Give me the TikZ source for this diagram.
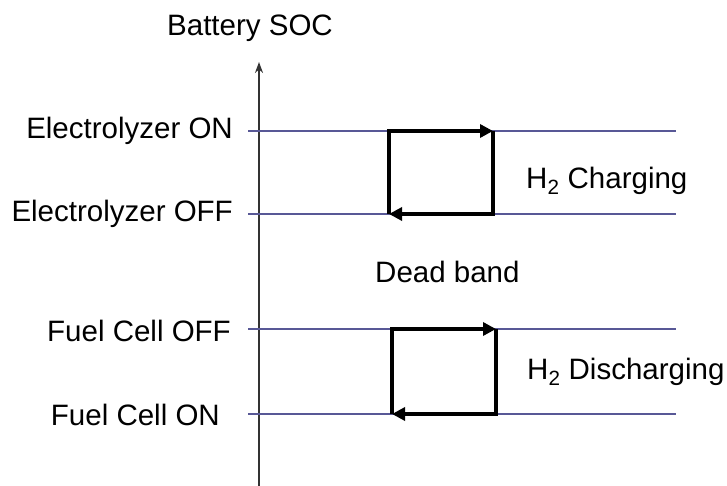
\documentclass[tikz,border=0pt]{standalone}
\usepackage{fontspec}
\setmainfont{Liberation Sans}
\usepackage{tikz}
\usetikzlibrary{arrows.meta}

\definecolor{levelblue}{RGB}{88,88,150}

\begin{document}
\begin{tikzpicture}[
    x=1pt, y=-1pt,
    font=\fontsize{29.5}{34}\selectfont,
    axisline/.style={draw=black!80, line width=2pt, -{Stealth[length=11pt, width=8pt]}},
    levelline/.style={draw=levelblue, line width=1.5pt},
    looparrow/.style={draw=black, line width=3.8pt, line join=miter,
        -{Triangle[length=13pt, width=13pt]}},
    lvltext/.style={anchor=east, inner sep=0pt},
    bandtext/.style={anchor=west, inner sep=0pt},
]
\useasboundingbox (0,0) rectangle (727,486);

% ---------- Axis ----------
\coordinate (axisbot) at (259,486);
\coordinate (axistop) at (259,62);
\draw[axisline] (axisbot) -- (axistop);
\node[inner sep=0pt] (soc) at (250,28) {Battery SOC};

% ---------- Levels ----------
\foreach \name/\yy in {eon/131, eoff/214, fcoff/329, fcon/414} {
    \coordinate (\name-l) at (248,\yy);
    \coordinate (\name-r) at (676,\yy);
    \draw[levelline] (\name-l) -- (\name-r);
}

\node[lvltext] (eontext) at (233,131) {Electrolyzer ON};
\node[lvltext] (eofftext) at (233,214) {Electrolyzer OFF};
\node[lvltext] (fcofftext) at (231,331) {Fuel Cell OFF};
\node[lvltext] (fcontext) at (220,415) {Fuel Cell ON};

% ---------- Hysteresis loops ----------
\coordinate (ch-tl) at (389,131);
\coordinate (ch-tr) at (493,131);
\coordinate (ch-br) at (493,214);
\coordinate (ch-bl) at (389,214);
\draw[looparrow] (ch-bl) -- (ch-tl) -- (ch-tr);
\draw[looparrow] (ch-tr) -- (ch-br) -- (ch-bl);

\coordinate (dc-tl) at (392,329);
\coordinate (dc-tr) at (496,329);
\coordinate (dc-br) at (496,414);
\coordinate (dc-bl) at (392,414);
\draw[looparrow] (dc-bl) -- (dc-tl) -- (dc-tr);
\draw[looparrow] (dc-tr) -- (dc-br) -- (dc-bl);

% ---------- Band labels ----------
\node[bandtext] (chtext) at (526,181) {H\textsubscript{2} Charging};
\node[bandtext] (deadtext) at (375,272) {Dead band};
\node[bandtext] (dctext) at (527,372) {H\textsubscript{2} Discharging};

\end{tikzpicture}
\end{document}
